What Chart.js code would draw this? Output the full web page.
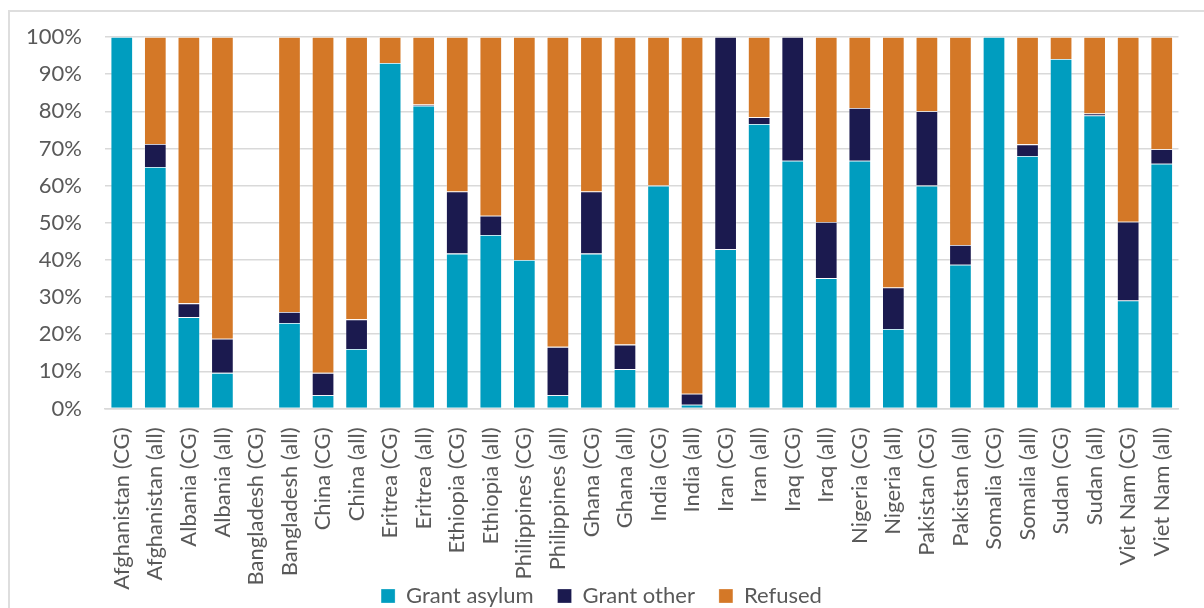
<!DOCTYPE html>
<html>
<head>
<meta charset="utf-8">
<script src="https://cdn.jsdelivr.net/npm/chart.js@4/dist/chart.umd.min.js"></script>
<style>
  html, body { margin: 0; padding: 0; background: #ffffff; overflow: hidden; }
  #frame {
    position: absolute; left: 8px; top: 10px; width: 1400px; height: 800px;
    border-left: 2px solid #dedede; border-top: 2px solid #dedede; box-sizing: border-box;
  }
  #wrap { position: absolute; left: 0; top: 0; width: 1204px; height: 608px; }
</style>
</head>
<body>
<div id="frame"></div>
<div id="wrap"><canvas id="chart" width="1204" height="608"></canvas></div>
<script>
// Asylum decisions by nationality: CG cohort vs all applicants (% of decisions)
const categories = [
  'Afghanistan (CG)', 'Afghanistan (all)', 'Albania (CG)', 'Albania (all)',
  'Bangladesh (CG)', 'Bangladesh (all)', 'China (CG)', 'China (all)',
  'Eritrea (CG)', 'Eritrea (all)', 'Ethiopia (CG)', 'Ethiopia (all)',
  'Philippines (CG)', 'Philippines (all)', 'Ghana (CG)', 'Ghana (all)',
  'India (CG)', 'India (all)', 'Iran (CG)', 'Iran (all)',
  'Iraq (CG)', 'Iraq (all)', 'Nigeria (CG)', 'Nigeria (all)',
  'Pakistan (CG)', 'Pakistan (all)', 'Somalia (CG)', 'Somalia (all)',
  'Sudan (CG)', 'Sudan (all)', 'Viet Nam (CG)', 'Viet Nam (all)'
];

const grantAsylum = [
  100, 65, 24.6, 9.6,
  0, 23, 3.6, 16,
  93, 81.5, 41.7, 46.7,
  40, 3.6, 41.7, 10.6,
  60, 1, 42.9, 76.6,
  66.7, 35.1, 66.7, 21.4,
  60, 38.7, 100, 68,
  94.1, 78.9, 29.1, 65.9
];

const grantOther = [
  0, 6.2, 3.7, 9.2,
  0, 3, 6, 8,
  0, 0.3, 16.7, 5.2,
  0, 13, 16.7, 6.6,
  0, 3, 57.1, 1.8,
  33.3, 15.1, 14.2, 11.2,
  20, 5.3, 0, 3.1,
  0, 0.5, 21.2, 3.9
];

const refused = [
  0, 28.8, 71.7, 81.2,
  0, 74, 90.4, 76,
  7, 18.2, 41.6, 48.1,
  60, 83.4, 41.6, 82.8,
  40, 96, 0, 21.6,
  0, 49.8, 19.1, 67.4,
  20, 56, 0, 28.9,
  5.9, 20.6, 49.7, 30.2
];

const yTicks = [0, 10, 20, 30, 40, 50, 60, 70, 80, 90, 100];

const FONT = 'Lato, "Open Sans", sans-serif';
const TEXT = '#595959';
const GRID = '#d9d9d9';

const barStyle = { borderWidth: 0.8, borderColor: 'rgba(255,255,255,0.35)', borderSkipped: 'start' };

// The category labels fill the space down to the legend row, so the legend
// box is stretched upward to sit just below the longest rotated label.
const LEGEND_TOP = 561;
const legendLift = {
  id: 'legendLift',
  afterLayout(chart) {
    const lg = chart.legend;
    if (!lg) return;
    lg.top = LEGEND_TOP;
    lg.bottom = chart.height;
    lg.height = lg.bottom - lg.top;
  }
};

new Chart(document.getElementById('chart'), {
  type: 'bar',
  data: {
    labels: categories,
    datasets: [
      { label: 'Grant asylum', data: grantAsylum, backgroundColor: '#009dbf', ...barStyle },
      { label: 'Grant other', data: grantOther, backgroundColor: '#1b1a4f', ...barStyle },
      { label: 'Refused', data: refused, backgroundColor: '#d47827', ...barStyle }
    ]
  },
  options: {
    responsive: false,
    animation: false,
    devicePixelRatio: 1,
    layout: { padding: { top: 37, right: 25.5, bottom: 0, left: 24.5 } },
    datasets: { bar: { barPercentage: 0.665, categoryPercentage: 1 } },
    scales: {
      x: {
        stacked: true,
        grid: { display: false },
        border: { display: true, color: GRID, width: 1.5 },
        ticks: {
          autoSkip: false, maxRotation: 90, minRotation: 90,
          padding: 11, color: TEXT, font: { family: FONT, size: 22 }
        },
        afterFit: (scale) => { scale.height = 183; }
      },
      y: {
        stacked: true,
        min: 0, max: 100,
        afterBuildTicks: (scale) => { scale.ticks = yTicks.map(v => ({ value: v })); },
        grid: { color: GRID, lineWidth: 1.5, drawTicks: false },
        border: { display: false },
        ticks: {
          padding: 23, color: TEXT, font: { family: FONT, size: 22 },
          callback: (v) => v + '%'
        },
        afterFit: (scale) => { scale.width = 80.5; }
      }
    },
    plugins: {
      tooltip: { enabled: false },
      legend: {
        position: 'bottom',
        maxHeight: 16.5,
        labels: {
          boxWidth: 14, boxHeight: 14, padding: 24,
          color: TEXT, font: { family: FONT, size: 22 }
        }
      }
    }
  },
  plugins: [legendLift]
});
</script>
</body>
</html>
